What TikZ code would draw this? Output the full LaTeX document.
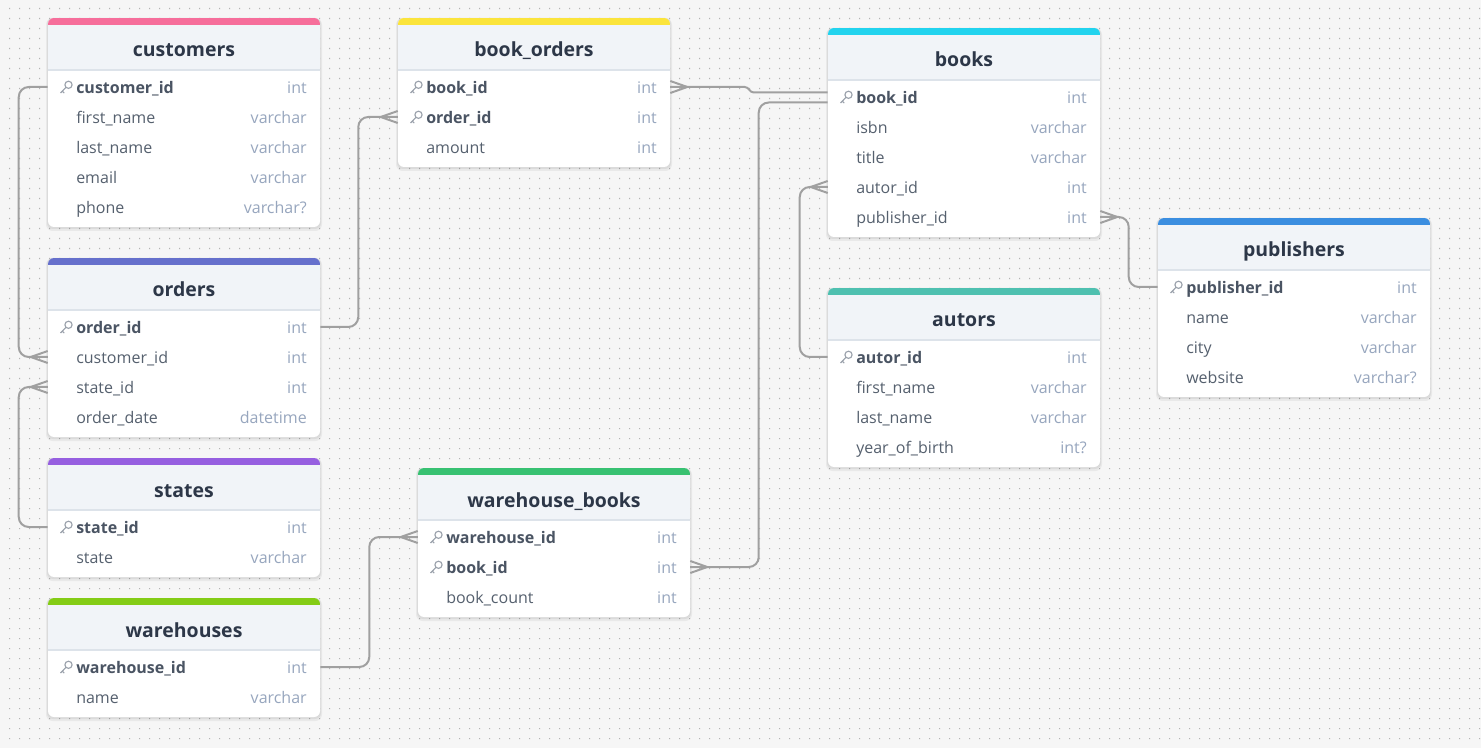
\documentclass[tikz,border=0pt]{standalone}
\usepackage{fontspec}
\setmainfont{Open Sans}
\usetikzlibrary{calc}
\definecolor{bgc}{HTML}{F6F6F6}
\definecolor{dotc}{HTML}{B4B4B4}
\definecolor{headc}{HTML}{F1F4F8}
\definecolor{sepc}{HTML}{DDE3EA}
\definecolor{titlec}{HTML}{2D3748}
\definecolor{fieldc}{HTML}{55606E}
\definecolor{keyfc}{HTML}{4A5463}
\definecolor{typec}{HTML}{97A6BE}
\definecolor{keyic}{HTML}{9AA1AB}
\definecolor{linec}{HTML}{A0A0A0}
\definecolor{cCust}{HTML}{F66E9B}
\definecolor{cOrd}{HTML}{6670CC}
\definecolor{cSta}{HTML}{965FE0}
\definecolor{cWh}{HTML}{84CC16}
\definecolor{cBo}{HTML}{FBE43C}
\definecolor{cWb}{HTML}{38C172}
\definecolor{cBk}{HTML}{22D3EE}
\definecolor{cAu}{HTML}{4EC0B0}
\definecolor{cPub}{HTML}{3B8EE0}
\tikzset{
  titletext/.style={font=\fontsize{14.6pt}{16pt}\selectfont\bfseries, text=titlec, inner sep=0pt, text height=10.5pt, text depth=0pt},
  fieldtext/.style={font=\fontsize{12pt}{14pt}\selectfont, text=fieldc, inner sep=0pt, anchor=base west},
  keytext/.style={font=\fontsize{12pt}{14pt}\selectfont\bfseries, text=keyfc, inner sep=0pt, anchor=base west},
  typetext/.style={font=\fontsize{12pt}{14pt}\selectfont, text=typec, inner sep=0pt, anchor=base east},
  rowbox/.style={minimum width=204pt, minimum height=22.5pt, inner sep=0pt, draw=none},
  conn/.style={draw=linec, line width=1.5pt, rounded corners=7.5pt},
  crowline/.style={draw=linec, line width=1.5pt},
  keyicon/.style={draw=keyic, line width=0.85pt},
}
% #1 id, #2 left, #3 top, #4 rows count, #5 colour, #6 title, #7 rows
\newcommand\erdtable[7]{%
  \pgfmathsetmacro\tabH{69+30*(#4-1)+20}
  \begin{scope}[shift={(#2,#3)}]
    \fill[black,opacity=0.05,rounded corners=5pt] (-2,0) rectangle (274,\tabH+4);
    \fill[black,opacity=0.06,rounded corners=4.5pt] (-1,0) rectangle (273,\tabH+2);
    \fill[white,rounded corners=4.5pt] (0,0) rectangle (272,\tabH);
    \begin{scope}
      \clip[rounded corners=4.5pt] (0,0) rectangle (272,\tabH);
      \fill[#5] (0,0) rectangle (272,7);
      \fill[headc] (0,7) rectangle (272,52);
      \draw[sepc,line width=1pt] (0,52) -- (272,52);
    \end{scope}
    \node[titletext] (#1) at (136,32) {#6};
    \foreach \fname/\ftype/\fkey [count=\ri] in {#7}{
      \pgfmathsetmacro\ry{69+30*(\ri-1)}
      \node[rowbox] (#1-r\ri) at (136,\ry) {};
      \ifnum\fkey=1
        \node[keytext] (#1-f\ri) at (28,\ry+6.8) {\fname};
        \draw[keyicon] (20.5,\ry-2.2) circle[radius=3.6*0.75pt];
        \draw[keyicon] (18,\ry+0.4) -- (12.5,\ry+6) (14.3,\ry+4.2) -- (16.2,\ry+6.1);
      \else
        \node[fieldtext] (#1-f\ri) at (28,\ry+6.8) {\fname};
      \fi
      \node[typetext] (#1-t\ri) at (259,\ry+6.8) {\ftype};
    }
  \end{scope}
}
\newcommand\crowL[1]{% crow's foot on a left side
  \draw[crowline] ($(#1)+(-17,0)$) -- ($(#1)+(0,-6)$);
  \draw[crowline] ($(#1)+(-17,0)$) -- ($(#1)+(0,6)$);
  \draw[crowline] ($(#1)+(-17,0)$) -- (#1);
}
\newcommand\crowR[1]{% crow's foot on a right side
  \draw[crowline] ($(#1)+(17,0)$) -- ($(#1)+(0,-6)$);
  \draw[crowline] ($(#1)+(17,0)$) -- ($(#1)+(0,6)$);
  \draw[crowline] ($(#1)+(17,0)$) -- (#1);
}
\begin{document}
\begin{tikzpicture}[x=0.75pt,y=-0.75pt]
\useasboundingbox (0,0) rectangle (1481,748);
\fill[bgc] (0,0) rectangle (1481,748);
\foreach \yy in {8,18,...,748}{
  \fill[dotc] \foreach \xx in {9,19,...,1479}{ (\xx,\yy) rectangle ++(1.2,1.2) };
}
\erdtable{customers}{48}{18}{5}{cCust}{customers}{customer\_id/int/1, first\_name/varchar/0, last\_name/varchar/0, email/varchar/0, phone/varchar?/0}
\erdtable{orders}{48}{258}{4}{cOrd}{orders}{order\_id/int/1, customer\_id/int/0, state\_id/int/0, order\_date/datetime/0}
\erdtable{states}{48}{458}{2}{cSta}{states}{state\_id/int/1, state/varchar/0}
\erdtable{warehouses}{48}{598}{2}{cWh}{warehouses}{warehouse\_id/int/1, name/varchar/0}
\erdtable{bookorders}{398}{18}{3}{cBo}{book\_orders}{book\_id/int/1, order\_id/int/1, amount/int/0}
\erdtable{whbooks}{418}{468}{3}{cWb}{warehouse\_books}{warehouse\_id/int/1, book\_id/int/1, book\_count/int/0}
\erdtable{books}{828}{28}{5}{cBk}{books}{book\_id/int/1, isbn/varchar/0, title/varchar/0, autor\_id/int/0, publisher\_id/int/0}
\erdtable{autors}{828}{288}{4}{cAu}{autors}{autor\_id/int/1, first\_name/varchar/0, last\_name/varchar/0, year\_of\_birth/int?/0}
\erdtable{publishers}{1158}{218}{4}{cPub}{publishers}{publisher\_id/int/1, name/varchar/0, city/varchar/0, website/varchar?/0}
% connectors
\draw[conn] (customers-r1.west) -- ++(-29,0) |- (orders-r2.west);
\crowL{orders-r2.west}
\draw[conn] (states-r1.west) -- ++(-29,0) |- (orders-r3.west);
\crowL{orders-r3.west}
\draw[conn] (orders-r1.east) -- ++(38,0) |- (bookorders-r2.west);
\crowL{bookorders-r2.west}
\draw[draw=linec, line width=1.5pt] ($(books-r1.west)+(0,-4.5)$) -- ++(-74,0) to[out=180,in=0] ++(-9,-5.5) -- (bookorders-r1.east);
\crowR{bookorders-r1.east}
\draw[conn] ($(books-r1.west)+(0,5.5)$) -- ++(-69,0) |- (whbooks-r2.east);
\crowR{whbooks-r2.east}
\draw[conn] (warehouses-r1.east) -- ++(49,0) |- (whbooks-r1.west);
\crowL{whbooks-r1.west}
\draw[conn] (autors-r1.west) -- ++(-28,0) |- (books-r4.west);
\crowL{books-r4.west}
\draw[conn] (publishers-r1.west) -- ++(-29,0) |- (books-r5.east);
\crowR{books-r5.east}
\end{tikzpicture}
\end{document}
